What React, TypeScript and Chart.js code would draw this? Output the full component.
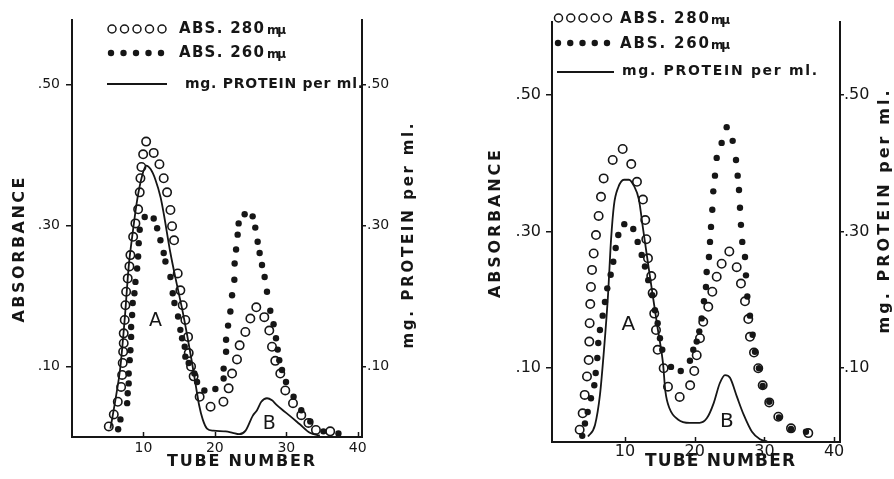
import React, { useEffect, useRef } from "react";
import { Chart, registerables } from "chart.js";

Chart.register(...registerables);

const FONT = '"DejaVu Sans", "Liberation Sans", sans-serif';
const INK = "#161616";
const W = 447;
const H = 479;

// ---------- shared ticks ----------
const xTickValues = [10, 20, 30, 40];
const yTickValues = [0.1, 0.3, 0.5];
const yTickLabels = [".10", ".30", ".50"];
const y2TickLabels = [".10", ".30", ".50"];

// ---------- LEFT PANEL ----------
const leftTube280 = [5.15, 5.85, 6.41, 6.88, 7.02, 7.1, 7.16, 7.24, 7.24, 7.38, 7.48, 7.58, 7.8, 8.04, 8.18, 8.56, 8.88, 9.26, 9.48, 9.58, 9.72, 9.96, 10.38, 11.44, 12.24, 12.84, 13.31, 13.78, 14.01, 14.29, 14.8, 15.17, 15.5, 15.87, 16.25, 16.34, 16.67, 17.03, 17.87, 19.4, 21.2, 21.93, 22.41, 23.1, 23.47, 24.27, 24.97, 25.8, 26.92, 27.62, 28.0, 28.46, 29.16, 29.86, 30.94, 32.1, 33.1, 34.15, 36.15];
const leftAbs280 = [0.015, 0.032, 0.05, 0.071, 0.088, 0.105, 0.121, 0.133, 0.147, 0.166, 0.187, 0.206, 0.225, 0.242, 0.258, 0.284, 0.303, 0.323, 0.347, 0.367, 0.383, 0.401, 0.419, 0.403, 0.387, 0.367, 0.347, 0.322, 0.299, 0.279, 0.232, 0.208, 0.187, 0.166, 0.142, 0.119, 0.1, 0.086, 0.057, 0.043, 0.05, 0.069, 0.09, 0.11, 0.13, 0.149, 0.168, 0.184, 0.17, 0.151, 0.128, 0.108, 0.09, 0.066, 0.048, 0.031, 0.02, 0.01, 0.008];

const leftTube260 = [6.46, 6.78, 7.72, 7.8, 7.94, 7.94, 8.08, 8.18, 8.28, 8.28, 8.42, 8.5, 8.74, 8.88, 9.12, 9.26, 9.34, 9.48, 10.18, 11.44, 11.92, 12.38, 12.84, 13.08, 13.78, 14.1, 14.34, 14.85, 15.17, 15.41, 15.78, 15.87, 16.34, 17.13, 17.51, 18.53, 20.07, 21.23, 21.23, 21.57, 21.57, 21.85, 22.17, 22.41, 22.73, 22.77, 22.97, 23.19, 23.33, 24.17, 25.29, 25.66, 25.99, 26.27, 26.6, 26.97, 27.3, 27.76, 28.22, 28.56, 28.8, 29.02, 29.4, 29.96, 31.02, 32.1, 33.36, 35.2, 37.3];
const leftAbs260 = [0.011, 0.025, 0.048, 0.062, 0.076, 0.09, 0.109, 0.123, 0.142, 0.156, 0.173, 0.19, 0.204, 0.22, 0.239, 0.256, 0.275, 0.294, 0.312, 0.31, 0.296, 0.279, 0.261, 0.249, 0.227, 0.204, 0.19, 0.171, 0.152, 0.14, 0.128, 0.114, 0.105, 0.09, 0.078, 0.066, 0.068, 0.083, 0.097, 0.121, 0.138, 0.158, 0.178, 0.201, 0.223, 0.246, 0.266, 0.287, 0.303, 0.316, 0.313, 0.297, 0.277, 0.261, 0.244, 0.227, 0.206, 0.179, 0.16, 0.14, 0.124, 0.109, 0.095, 0.078, 0.057, 0.038, 0.022, 0.008, 0.005];

const leftTubeProt = [5.38, 6.2, 6.78, 7.4, 7.94, 8.5, 9.12, 9.8, 10.38, 11.0, 11.68, 12.4, 12.84, 13.78, 14.71, 15.41, 16.11, 16.81, 17.3, 17.8, 18.3, 18.9, 19.8, 21.5, 22.5, 23.4, 24.3, 25.3, 25.9, 26.5, 27.3, 28.0, 28.6, 29.4, 30.5, 31.9, 33.3, 34.7];
const leftProtein = [0.012, 0.06, 0.1, 0.17, 0.242, 0.29, 0.336, 0.37, 0.385, 0.38, 0.365, 0.34, 0.317, 0.261, 0.215, 0.182, 0.145, 0.105, 0.075, 0.045, 0.025, 0.012, 0.009, 0.008, 0.006, 0.004, 0.009, 0.03, 0.038, 0.05, 0.055, 0.052, 0.046, 0.039, 0.03, 0.018, 0.006, 0.002];

const leftPeakNames = ["A", "B"];
const leftPeakTube = [11.68, 27.6];
const leftPeakAbs = [0.164, 0.018];

// ---------- RIGHT PANEL ----------
const rightTube280 = [3.5, 3.93, 4.22, 4.55, 4.79, 4.88, 4.93, 5.02, 5.12, 5.27, 5.51, 5.84, 6.22, 6.56, 6.94, 8.24, 9.67, 10.9, 11.72, 12.58, 12.91, 13.06, 13.3, 13.77, 13.97, 14.2, 14.45, 14.69, 15.55, 16.17, 17.85, 19.35, 19.94, 20.29, 20.76, 21.23, 21.95, 22.53, 23.16, 23.87, 24.97, 26.03, 26.64, 27.22, 27.69, 27.93, 28.51, 29.12, 29.76, 30.7, 32.0, 33.82, 36.3];
const rightAbs280 = [0.01, 0.034, 0.061, 0.088, 0.112, 0.139, 0.166, 0.194, 0.219, 0.244, 0.268, 0.295, 0.323, 0.351, 0.378, 0.405, 0.421, 0.399, 0.373, 0.347, 0.317, 0.289, 0.261, 0.235, 0.21, 0.18, 0.156, 0.127, 0.1, 0.073, 0.058, 0.075, 0.096, 0.119, 0.144, 0.168, 0.19, 0.212, 0.234, 0.253, 0.271, 0.248, 0.224, 0.198, 0.172, 0.146, 0.123, 0.1, 0.075, 0.05, 0.029, 0.012, 0.005];

const rightTube260 = [3.87, 4.26, 4.65, 5.12, 5.6, 5.8, 6.03, 6.17, 6.41, 6.8, 7.13, 7.46, 7.95, 8.32, 8.67, 9.04, 9.9, 11.19, 11.82, 12.4, 12.87, 13.34, 13.92, 14.3, 14.69, 15.02, 15.35, 16.6, 18.0, 19.32, 19.8, 20.29, 20.66, 21.0, 21.33, 21.62, 21.72, 22.05, 22.2, 22.34, 22.53, 22.67, 22.91, 23.16, 23.87, 24.59, 25.45, 25.93, 26.17, 26.36, 26.5, 26.64, 26.83, 27.22, 27.36, 27.55, 27.93, 28.32, 28.65, 29.22, 29.76, 30.7, 32.1, 33.82, 35.97];
const rightAbs260 = [0.001, 0.019, 0.036, 0.056, 0.075, 0.093, 0.115, 0.137, 0.156, 0.177, 0.197, 0.217, 0.237, 0.256, 0.276, 0.295, 0.311, 0.304, 0.285, 0.266, 0.249, 0.229, 0.207, 0.185, 0.166, 0.144, 0.127, 0.102, 0.096, 0.111, 0.127, 0.139, 0.154, 0.173, 0.198, 0.219, 0.241, 0.263, 0.285, 0.307, 0.332, 0.359, 0.382, 0.408, 0.43, 0.453, 0.433, 0.405, 0.382, 0.361, 0.335, 0.31, 0.285, 0.263, 0.236, 0.205, 0.177, 0.149, 0.124, 0.1, 0.074, 0.051, 0.028, 0.011, 0.007];

const rightTubeProt = [4.7, 5.7, 6.41, 6.99, 7.56, 8.0, 8.42, 9.0, 9.86, 10.57, 11.29, 12.0, 12.58, 13.3, 14.02, 14.73, 15.45, 15.8, 16.4, 17.6, 19.3, 20.7, 21.76, 22.73, 23.6, 24.35, 25.07, 26.07, 27.03, 28.22, 29.37, 30.4];
const rightProtein = [0.0, 0.017, 0.061, 0.127, 0.206, 0.288, 0.339, 0.364, 0.376, 0.376, 0.367, 0.347, 0.305, 0.254, 0.204, 0.156, 0.108, 0.066, 0.041, 0.025, 0.02, 0.02, 0.027, 0.049, 0.078, 0.09, 0.086, 0.058, 0.032, 0.007, -0.004, -0.007];

const rightPeakNames = ["A", "B"];
const rightPeakTube = [10.47, 24.6];
const rightPeakAbs = [0.163, 0.022];

type Pt = { x: number; y: number };
const pts = (xs: number[], ys: number[]): Pt[] => xs.map((x, i) => ({ x, y: ys[i] }));

interface TextItem { text: string; x: number; y: number; w: number; font: string; mode: "left" | "center"; angle?: number }
interface PanelSpec {
  area: { left: number; right: number; top: number; bottom: number };
  xRange: [number, number];
  yRange: [number, number];
  abs280: Pt[];
  abs260: Pt[];
  protein: Pt[];
  peaks: { names: string[]; x: number[]; y: number[]; font: string };
  tickSize: number;
  yTickPad: number;
  y2TickPad: number;
  xTickPad: number;
  texts: TextItem[];
  legend: { circleX: number; circleY: number; dotX: number; dotY: number; lineX1: number; lineX2: number; lineY: number; step: number };
}

function drawFitted(ctx: CanvasRenderingContext2D, t: TextItem) {
  ctx.save();
  ctx.font = t.font;
  ctx.textBaseline = "middle";
  ctx.textAlign = "left";
  ctx.fillStyle = INK;
  const chars = Array.from(t.text);
  const ws = chars.map((c) => ctx.measureText(c).width);
  const total = ws.reduce((a, b) => a + b, 0);
  const gap = chars.length > 1 ? (t.w - total) / (chars.length - 1) : 0;
  ctx.translate(t.x, t.y);
  if (t.angle) ctx.rotate(t.angle);
  let cx = t.mode === "center" ? -t.w / 2 : 0;
  chars.forEach((c, i) => {
    ctx.fillText(c, cx, 0);
    cx += ws[i] + gap;
  });
  ctx.restore();
}

function makeTextPlugin(p: PanelSpec) {
  return {
    id: "panelText",
    afterDraw(chart: any) {
      const ctx: CanvasRenderingContext2D = chart.ctx;
      p.texts.forEach((t) => drawFitted(ctx, t));
      // legend markers
      const L = p.legend;
      ctx.save();
      ctx.strokeStyle = INK;
      ctx.fillStyle = INK;
      for (let i = 0; i < 5; i++) {
        ctx.beginPath();
        ctx.lineWidth = 1.5;
        ctx.arc(L.circleX + i * L.step, L.circleY, 4, 0, Math.PI * 2);
        ctx.stroke();
        ctx.beginPath();
        ctx.arc(L.dotX + i * L.step, L.dotY, 3.2, 0, Math.PI * 2);
        ctx.fill();
      }
      ctx.beginPath();
      ctx.lineWidth = 1.8;
      ctx.moveTo(L.lineX1, L.lineY);
      ctx.lineTo(L.lineX2, L.lineY);
      ctx.stroke();
      // inward tick marks on the tube-number axis
      const xs = chart.scales.x;
      const ys = chart.scales.y;
      const base = chart.chartArea.bottom;
      ctx.lineWidth = 1.5;
      xTickValues.forEach((v) => {
        const px = Math.round(xs.getPixelForValue(v)) + 0.5;
        ctx.beginPath();
        ctx.moveTo(px, base);
        ctx.lineTo(px, base - 5);
        ctx.stroke();
      });
      ctx.restore();
      // peak labels
      ctx.save();
      ctx.font = p.peaks.font;
      ctx.fillStyle = INK;
      ctx.textAlign = "center";
      ctx.textBaseline = "middle";
      p.peaks.names.forEach((n, i) => {
        ctx.fillText(n, xs.getPixelForValue(p.peaks.x[i]), ys.getPixelForValue(p.peaks.y[i]));
      });
      ctx.restore();
    },
  };
}

const B = (s: number) => `bold ${s}px ${FONT}`;
const N = (s: number) => `${s}px ${FONT}`;
const UP = -Math.PI / 2;

const leftSpec: PanelSpec = {
  area: { left: 72, right: 362, top: 20, bottom: 437 },
  xRange: [0, 40.6],
  yRange: [0, 0.5915],
  abs280: pts(leftTube280, leftAbs280),
  abs260: pts(leftTube260, leftAbs260),
  protein: pts(leftTubeProt, leftProtein),
  peaks: { names: leftPeakNames, x: leftPeakTube, y: leftPeakAbs, font: N(19) },
  tickSize: 14,
  yTickPad: 6,
  y2TickPad: 1,
  xTickPad: 3,
  texts: [
    { text: "ABSORBANCE", x: 20, y: 250, w: 145, font: B(16), mode: "center", angle: UP },
    { text: "mg. PROTEIN per ml.", x: 409, y: 236, w: 225, font: B(15), mode: "center", angle: UP },
    { text: "TUBE NUMBER", x: 241, y: 462, w: 148, font: B(16), mode: "center" },
    { text: "ABS. 280", x: 179, y: 29, w: 85, font: B(15), mode: "left" },
    { text: "mμ", x: 267, y: 31, w: 19, font: B(12), mode: "left" },
    { text: "ABS. 260", x: 179, y: 53, w: 85, font: B(15), mode: "left" },
    { text: "mμ", x: 267, y: 55, w: 19, font: B(12), mode: "left" },
    { text: "mg. PROTEIN per ml.", x: 185, y: 84, w: 178, font: B(14), mode: "left" },
  ],
  legend: { circleX: 112, circleY: 29, dotX: 111, dotY: 53, lineX1: 107, lineX2: 167, lineY: 84, step: 12.5 },
};

const rightSpec: PanelSpec = {
  area: { left: 105, right: 393, top: 22, bottom: 442 },
  xRange: [-0.47, 40.85],
  yRange: [-0.008, 0.607],
  abs280: pts(rightTube280, rightAbs280),
  abs260: pts(rightTube260, rightAbs260),
  protein: pts(rightTubeProt, rightProtein),
  peaks: { names: rightPeakNames, x: rightPeakTube, y: rightPeakAbs, font: N(20) },
  tickSize: 16,
  yTickPad: 5,
  y2TickPad: 0,
  xTickPad: 0,
  texts: [
    { text: "ABSORBANCE", x: 49, y: 224, w: 148, font: B(16), mode: "center", angle: UP },
    { text: "mg. PROTEIN per ml.", x: 438, y: 212, w: 243, font: B(16), mode: "center", angle: UP },
    { text: "TUBE NUMBER", x: 273, y: 462, w: 150, font: B(17), mode: "center" },
    { text: "ABS. 280", x: 173, y: 19, w: 89, font: B(15), mode: "left" },
    { text: "mμ", x: 264, y: 21, w: 19, font: B(12), mode: "left" },
    { text: "ABS. 260", x: 173, y: 44, w: 89, font: B(15), mode: "left" },
    { text: "mμ", x: 264, y: 46, w: 19, font: B(12), mode: "left" },
    { text: "mg. PROTEIN per ml.", x: 175, y: 71, w: 195, font: B(14), mode: "left" },
  ],
  legend: { circleX: 111.5, circleY: 18, dotX: 111, dotY: 43, lineX1: 110, lineX2: 167, lineY: 72, step: 12.25 },
};

function makeChart(canvas: HTMLCanvasElement, p: PanelSpec) {
  const tickFont = { family: FONT, size: p.tickSize };
  const yScaleCommon = (labels: string[], pad: number, tl: number) => ({
    type: "linear" as const,
    min: p.yRange[0],
    max: p.yRange[1],
    afterBuildTicks: (s: any) => {
      s.ticks = yTickValues.map((v) => ({ value: v }));
    },
    grid: { drawOnChartArea: false, drawTicks: true, tickLength: tl, color: INK, lineWidth: 1.5 },
    border: { display: true, color: INK, width: 2 },
    ticks: {
      color: INK,
      font: tickFont,
      padding: pad,
      autoSkip: false,
      callback: (v: any) => labels[yTickValues.indexOf(Number(v))] ?? "",
    },
  });
  return new Chart(canvas, {
    type: "scatter",
    data: {
      datasets: [
        {
          label: "ABS. 260mμ",
          data: p.abs260,
          yAxisID: "y",
          showLine: false,
          pointRadius: 3.2,
          pointBackgroundColor: INK,
          pointBorderColor: INK,
          pointBorderWidth: 0,
        },
        {
          label: "ABS. 280mμ",
          data: p.abs280,
          yAxisID: "y",
          showLine: false,
          pointRadius: 4.2,
          pointBackgroundColor: "rgba(255,255,255,0)",
          pointBorderColor: INK,
          pointBorderWidth: 1.6,
        },
        {
          label: "mg. PROTEIN per ml.",
          data: p.protein,
          yAxisID: "y2",
          showLine: true,
          pointRadius: 0,
          borderColor: INK,
          borderWidth: 1.8,
          cubicInterpolationMode: "monotone",
          fill: false,
        } as any,
      ],
    },
    options: {
      responsive: false,
      animation: false,
      devicePixelRatio: 1,
      events: [],
      layout: { padding: { top: p.area.top, left: 0, right: 0, bottom: 0 } },
      plugins: { legend: { display: false }, tooltip: { enabled: false }, title: { display: false } },
      scales: {
        x: {
          type: "linear",
          position: "bottom",
          min: p.xRange[0],
          max: p.xRange[1],
          afterBuildTicks: (s: any) => {
            s.ticks = xTickValues.map((v) => ({ value: v }));
          },
          afterFit: (s: any) => {
            s.height = H - p.area.bottom;
          },
          grid: { drawOnChartArea: false, drawTicks: false },
          border: { display: true, color: INK, width: 2 },
          ticks: {
            color: INK,
            font: tickFont,
            padding: p.xTickPad,
            maxRotation: 0,
            autoSkip: false,
            callback: (v: any) => String(v),
          },
        },
        y: {
          ...yScaleCommon(yTickLabels, p.yTickPad, 6),
          position: "left",
          afterFit: (s: any) => {
            s.width = p.area.left;
          },
        },
        y2: {
          ...yScaleCommon(y2TickLabels, p.y2TickPad, 4),
          position: "right",
          afterFit: (s: any) => {
            s.width = W - p.area.right;
          },
        },
      },
    } as any,
    plugins: [makeTextPlugin(p)],
  });
}

export default function App() {
  const leftRef = useRef<HTMLCanvasElement | null>(null);
  const rightRef = useRef<HTMLCanvasElement | null>(null);
  useEffect(() => {
    const a = makeChart(leftRef.current!, leftSpec);
    const b = makeChart(rightRef.current!, rightSpec);
    return () => {
      a.destroy();
      b.destroy();
    };
  }, []);
  return (
    <div style={{ position: "absolute", left: 0, top: 0, width: 894, height: 479, background: "#fff", overflow: "hidden" }}>
      <canvas ref={leftRef} width={W} height={H} style={{ position: "absolute", left: 0, top: 0, width: W, height: H }} />
      <canvas ref={rightRef} width={W} height={H} style={{ position: "absolute", left: 447, top: 0, width: W, height: H }} />
    </div>
  );
}
